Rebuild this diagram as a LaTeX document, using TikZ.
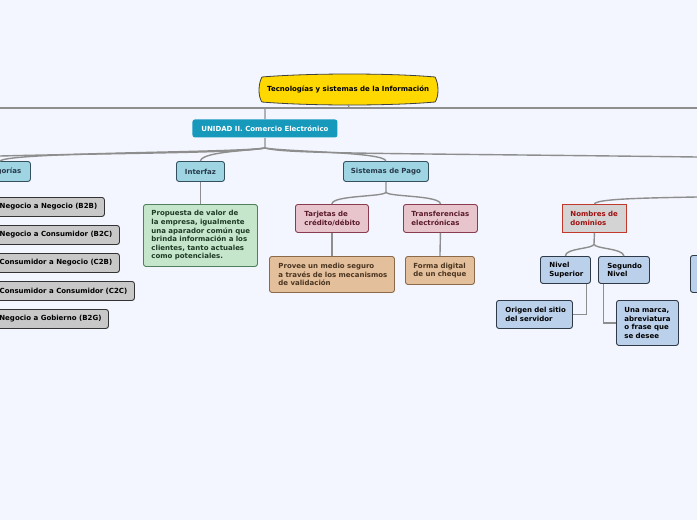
\documentclass[tikz,border=0pt]{standalone}
\usepackage{fontspec}
\setmainfont{DejaVu Sans}
\definecolor{bgc}{HTML}{F3F6FE}
\definecolor{linec}{HTML}{8E8E8E}
\definecolor{rootc}{HTML}{FFD800}
\definecolor{unic}{HTML}{1799BC}
\definecolor{catc}{HTML}{9FD5E3}
\definecolor{catb}{HTML}{34505E}
\definecolor{catt}{HTML}{27394A}
\definecolor{grayc}{HTML}{C8C8C8}
\definecolor{greenc}{HTML}{C6E6CB}
\definecolor{greenb}{HTML}{4F7F5C}
\definecolor{greent}{HTML}{1E3A25}
\definecolor{pinkc}{HTML}{E8C5CD}
\definecolor{pinkb}{HTML}{8A3B4E}
\definecolor{pinkt}{HTML}{5A1A2A}
\definecolor{tanc}{HTML}{E4BF9C}
\definecolor{tanb}{HTML}{8A6A4A}
\definecolor{tant}{HTML}{4A3520}
\definecolor{nomc}{HTML}{D4D4D4}
\definecolor{nomb}{HTML}{C0392B}
\definecolor{nomt}{HTML}{A01010}
\definecolor{bluec}{HTML}{BBD0EA}
\definecolor{blueb}{HTML}{2E3A48}
\tikzset{
  conn/.style={draw=linec, line width=1.4pt},
  bx/.style={rounded corners=2.5pt, line width=0.9pt, inner sep=0pt, anchor=north west},
  wh/.style 2 args={minimum width=#1pt, minimum height=#2pt},
  catbx/.style={bx, fill=catc, draw=catb, text=catt},
  graybx/.style={bx, fill=grayc, draw=black!80, text=black},
  greenbx/.style={bx, fill=greenc, draw=greenb, text=greent, align=left},
  pinkbx/.style={bx, fill=pinkc, draw=pinkb, text=pinkt, align=left},
  tanbx/.style={bx, fill=tanc, draw=tanb, text=tant, align=left},
  nombx/.style={bx, rounded corners=0pt, fill=nomc, draw=nomb, text=nomt, align=left},
  bluebx/.style={bx, fill=bluec, draw=blueb, text=black, align=left}
}
\begin{document}
\begin{tikzpicture}[x=1pt,y=-1pt, font=\fontsize{7}{8.6}\selectfont\bfseries]
\useasboundingbox (0,0) rectangle (697,520);
\fill[bgc] (0,0) rectangle (697,520);
\clip (0,0) rectangle (697,520);

% root
\fill[rootc, draw=black!75, line width=0.8pt]
  (262,77) .. controls (310,73) and (390,73) .. (435,77)
  .. controls (439,84) and (439,97) .. (435,102)
  .. controls (390,106) and (310,106) .. (262,102)
  .. controls (258,97) and (258,84) .. (262,77) -- cycle;
\node[inner sep=0pt, wh={178}{29}, anchor=north west, text=black] (root) at (259,75) {Tecnologías y sistemas de la Información};

% bus line
\coordinate (rj) at (349,108);
\coordinate (hl) at (0,108);
\coordinate (hr) at (697,108);
\coordinate (uj) at (265,108);
\draw[conn] (root.south) -- (rj);
\draw[conn] (hl) -- (hr);

% unidad
\node[bx, fill=unic, draw=none, text=white, wh={145}{18}] (unidad) at (192,119) {UNIDAD II. Comercio Electrónico};
\draw[conn] (uj) -- (unidad.north);

% level 2
\node[catbx, wh={61}{20}] (cat) at (-31,161) {Categorías};
\node[catbx, wh={48}{20}] (interfaz) at (176,161) {Interfaz};
\node[catbx, wh={85}{20}] (sist) at (343,161) {Sistemas de Pago};

\coordinate (u1) at (265,148);
\coordinate (offL) at (0,156);
\coordinate (offR) at (697,157);
\draw[conn] (unidad.south) -- (u1);
\draw[conn] (u1) .. controls (240,153) and (120,153) .. (offL);
\draw[conn] (u1) .. controls (230,153) and (10,152) .. (cat.north);
\draw[conn] (u1) .. controls (245,151) and (202,152) .. (interfaz.north);
\draw[conn] (u1) .. controls (290,152) and (384,152) .. (sist.north);
\draw[conn] (u1) .. controls (285,154) and (380,153) .. (offR);

% categories
\node[graybx, wh={112}{19}] (b2b) at (-8,197) {Negocio a Negocio (B2B)};
\node[graybx, wh={127}{19}] (b2c) at (-8,225) {Negocio a Consumidor (B2C)};
\node[graybx, wh={127}{19}] (c2b) at (-8,253) {Consumidor a Negocio (C2B)};
\node[graybx, wh={142}{19}] (c2c) at (-8,281) {Consumidor a Consumidor (C2C)};
\node[graybx, wh={116}{19}] (b2g) at (-8,309) {Negocio a Gobierno (B2G)};

% interfaz
\node[greenbx, wh={114}{62}, text width=98pt] (green) at (143,204)
  {\mbox{Propuesta de valor de}\\\mbox{la empresa, igualmente}\\\mbox{una aparador común que}\\\mbox{brinda información a los}\\\mbox{clientes, tanto actuales}\\\mbox{como potenciales.}};
\draw[conn] (interfaz.south) -- (green.north);

% sistemas de pago
\node[pinkbx, wh={73}{28}, text width=55pt] (tarj) at (295,204) {\mbox{Tarjetas de}\\\mbox{crédito/débito}};
\node[pinkbx, wh={74}{28}, text width=58pt] (transf) at (403,204) {\mbox{Transferencias}\\\mbox{electrónicas}};
\coordinate (s1) at (386,192);
\draw[conn] (sist.south) -- (s1);
\draw[conn] (s1) .. controls (386,197) and (332,195) .. (tarj.north);
\draw[conn] (s1) .. controls (386,197) and (440,195) .. (transf.north);

\node[tanbx, wh={125}{36}, text width=107pt] (provee) at (269,256) {\mbox{Provee un medio seguro}\\\mbox{a través de los mecanismos}\\\mbox{de validación}};
\node[tanbx, wh={69}{28}, text width=53pt] (forma) at (405,256) {\mbox{Forma digital}\\\mbox{de un cheque}};
\draw[conn] (tarj.south) -- (provee.north);
\draw[conn] (transf.south) -- (forma.north);

% nombres de dominios
\node[nombx, wh={64}{28}, text width=48pt] (nombres) at (562,204) {\mbox{Nombres de}\\\mbox{dominios}};
\coordinate (offN) at (697,197);
\draw[conn] (offN) .. controls (640,198) and (596,199) .. (nombres.north);

\node[bluebx, wh={50}{27}, text width=32pt] (nivsup) at (540,256) {\mbox{Nivel}\\\mbox{Superior}};
\node[bluebx, wh={51}{27}, text width=33pt] (segniv) at (598,256) {\mbox{Segundo}\\\mbox{Nivel}};
\node[bluebx, wh={50}{37}] (partial) at (690,255) {};
\coordinate (n1) at (594,244);
\draw[conn] (nombres.south) -- (n1);
\draw[conn] (n1) .. controls (594,249) and (565,248) .. (nivsup.north);
\draw[conn] (n1) .. controls (594,249) and (623,248) .. (segniv.north);

\node[bluebx, wh={76}{28}, text width=58pt] (origen) at (496,300) {\mbox{Origen del sitio}\\\mbox{del servidor}};
\node[bluebx, wh={62}{45}, text width=46pt] (marca) at (616,300) {\mbox{Una marca,}\\\mbox{abreviatura}\\\mbox{o frase que}\\\mbox{se desee}};
\draw[conn] ([xshift=21pt]nivsup.south) |- (origen.east);
\draw[conn] ([xshift=-20.5pt]segniv.south) |- (marca.west);
\end{tikzpicture}
\end{document}
